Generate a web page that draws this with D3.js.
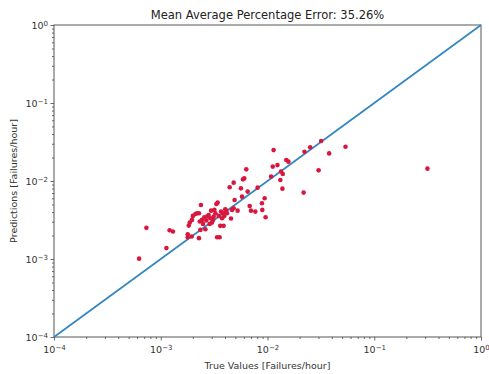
<!DOCTYPE html>
<html>
<head>
<meta charset="utf-8">
<script src="https://cdn.jsdelivr.net/npm/d3@7"></script>
<style>
  body { margin: 0; background: #fff; }
  text { font-family: "DejaVu Sans", sans-serif; fill: #333; }
</style>
</head>
<body>
<script>
// chart values
var titleText = "Mean Average Percentage Error: 35.26%";
var xLabel = "True Values [Failures/hour]";
var yLabel = "Predictions [Failures/hour]";
var majorExps = [-4, -3, -2, -1, 0];

var trueValues = [
  6.27e-4, 7.34e-4, 1.13e-3, 1.21e-3, 1.30e-3, 1.79e-3, 1.79e-3, 1.83e-3, 1.87e-3, 1.96e-3,
  2.00e-3, 1.95e-3, 2.11e-3, 2.19e-3, 2.28e-3, 2.28e-3, 2.32e-3, 2.35e-3, 2.38e-3, 2.43e-3,
  2.49e-3, 2.56e-3, 2.62e-3, 2.67e-3, 2.71e-3, 2.81e-3, 2.87e-3, 2.91e-3, 2.96e-3, 3.02e-3,
  3.09e-3, 3.13e-3, 3.18e-3, 3.25e-3, 3.32e-3, 3.37e-3, 3.41e-3, 3.49e-3, 3.56e-3, 3.61e-3,
  3.67e-3, 3.75e-3, 3.83e-3, 3.88e-3, 3.94e-3, 4.02e-3, 4.11e-3, 4.17e-3, 4.42e-3, 4.55e-3,
  4.65e-3, 4.82e-3, 4.82e-3, 4.92e-3, 5.25e-3, 5.64e-3, 5.77e-3, 5.89e-3, 6.06e-3, 6.33e-3,
  6.52e-3, 6.81e-3, 7.00e-3, 7.69e-3, 8.08e-3, 8.87e-3, 8.94e-3, 9.40e-3, 9.60e-3, 1.08e-2,
  1.12e-2, 1.14e-2, 1.24e-2, 1.32e-2, 1.34e-2, 1.39e-2, 1.38e-2, 1.50e-2, 1.57e-2, 2.18e-2,
  2.22e-2, 2.51e-2, 3.01e-2, 3.18e-2, 3.78e-2, 5.38e-2, 3.15e-1
];
var predictions = [
  1.01e-3, 2.51e-3, 1.38e-3, 2.34e-3, 2.25e-3, 2.08e-3, 1.90e-3, 2.68e-3, 2.93e-3, 3.17e-3,
  3.57e-3, 1.94e-3, 3.78e-3, 3.86e-3, 3.86e-3, 1.85e-3, 3.02e-3, 2.36e-3, 4.93e-3, 3.17e-3,
  2.82e-3, 3.43e-3, 2.41e-3, 3.11e-3, 3.50e-3, 3.67e-3, 2.82e-3, 3.33e-3, 4.17e-3, 2.93e-3,
  3.17e-3, 3.50e-3, 4.26e-3, 3.86e-3, 5.08e-3, 1.90e-3, 5.28e-3, 3.57e-3, 1.90e-3, 2.66e-3,
  4.05e-3, 3.33e-3, 3.86e-3, 2.66e-3, 3.57e-3, 4.34e-3, 4.17e-3, 3.86e-3, 8.30e-3, 3.30e-3,
  4.26e-3, 9.52e-3, 4.47e-3, 5.71e-3, 4.17e-3, 8.05e-3, 6.30e-3, 1.05e-2, 1.08e-2, 1.41e-2,
  7.31e-3, 4.79e-3, 4.17e-3, 4.05e-3, 8.22e-3, 5.18e-3, 4.26e-3, 6.00e-3, 3.43e-3, 1.14e-2,
  1.53e-2, 2.49e-2, 1.60e-2, 1.03e-2, 1.32e-2, 1.23e-2, 7.98e-3, 1.86e-2, 1.77e-2, 7.10e-3,
  2.37e-2, 2.70e-2, 1.37e-2, 3.25e-2, 2.26e-2, 2.75e-2, 1.44e-2
];
var identityLine = [1e-4, 1e0];

var margin = {top: 25, right: 8, bottom: 37, left: 54},
    width = 489,
    height = 374,
    innerW = width - margin.left - margin.right,
    innerH = height - margin.top - margin.bottom;

var svg = d3.select("body").append("svg")
    .attr("width", width)
    .attr("height", height);

var g = svg.append("g")
    .attr("transform", "translate(" + margin.left + "," + margin.top + ")");

var x = d3.scaleLog().domain([1e-4, 1]).range([0, innerW]);
var y = d3.scaleLog().domain([1e-4, 1]).range([innerH, 0]);

// minor tick positions 2..9 per decade
var minors = [];
majorExps.slice(0, -1).forEach(function(e) {
    for (var k = 2; k < 10; k++) minors.push(k * Math.pow(10, e));
});
var majors = majorExps.map(function(e) { return Math.pow(10, e); });

function styleAxis(sel) {
    sel.select(".domain").remove();
    sel.selectAll("line").attr("stroke", "#444").attr("stroke-width", 0.8);
}

g.append("g").attr("transform", "translate(0," + innerH + ")")
    .call(d3.axisBottom(x).tickValues(minors).tickSize(2).tickFormat(""))
    .call(styleAxis);
g.append("g")
    .call(d3.axisLeft(y).tickValues(minors).tickSize(2).tickFormat(""))
    .call(styleAxis);

var xAxis = g.append("g").attr("transform", "translate(0," + innerH + ")")
    .call(d3.axisBottom(x).tickValues(majors).tickSize(3.5).tickPadding(3).tickFormat(""))
    .call(styleAxis);
var yAxis = g.append("g")
    .call(d3.axisLeft(y).tickValues(majors).tickSize(3.5).tickPadding(3).tickFormat(""))
    .call(styleAxis);

// exponent labels
function powLabel(sel, v) {
    var e = Math.round(Math.log10(v));
    sel.text("10");
    sel.append("tspan")
        .attr("dy", "-0.45em")
        .style("font-size", "7px")
        .text(e < 0 ? "\u2212" + (-e) : e);
}

xAxis.selectAll(".tick").append("text")
    .attr("y", 16)
    .attr("text-anchor", "middle")
    .style("font-size", "9.5px")
    .each(function(d) { powLabel(d3.select(this), d); });

yAxis.selectAll(".tick").append("text")
    .attr("x", -6)
    .attr("dy", "0.35em")
    .attr("text-anchor", "end")
    .style("font-size", "9.5px")
    .each(function(d) { powLabel(d3.select(this), d); });

// frame
g.append("rect")
    .attr("width", innerW)
    .attr("height", innerH)
    .attr("fill", "none")
    .attr("stroke", "#444")
    .attr("stroke-width", 0.9);

// identity line
g.append("line")
    .attr("x1", x(identityLine[0]))
    .attr("y1", y(identityLine[0]))
    .attr("x2", x(identityLine[1]))
    .attr("y2", y(identityLine[1]))
    .attr("stroke", "#3287c0")
    .attr("stroke-width", 1.7);

// scatter
g.selectAll(".dot")
    .data(trueValues.map(function(v, i) { return [v, predictions[i]]; }))
    .enter().append("circle")
    .attr("class", "dot")
    .attr("cx", function(d) { return x(d[0]); })
    .attr("cy", function(d) { return y(d[1]); })
    .attr("r", 2.3)
    .attr("fill", "#d8173f");

svg.append("text")
    .attr("x", margin.left + innerW / 2)
    .attr("y", 19)
    .attr("text-anchor", "middle")
    .style("font-size", "11.5px")
    .style("fill", "#222")
    .text(titleText);

svg.append("text")
    .attr("x", margin.left + innerW / 2)
    .attr("y", 369)
    .attr("text-anchor", "middle")
    .style("font-size", "9.5px")
    .text(xLabel);

svg.append("text")
    .attr("transform", "translate(17," + (margin.top + innerH / 2) + ") rotate(-90)")
    .attr("text-anchor", "middle")
    .style("font-size", "9.5px")
    .text(yLabel);
</script>
</body>
</html>
